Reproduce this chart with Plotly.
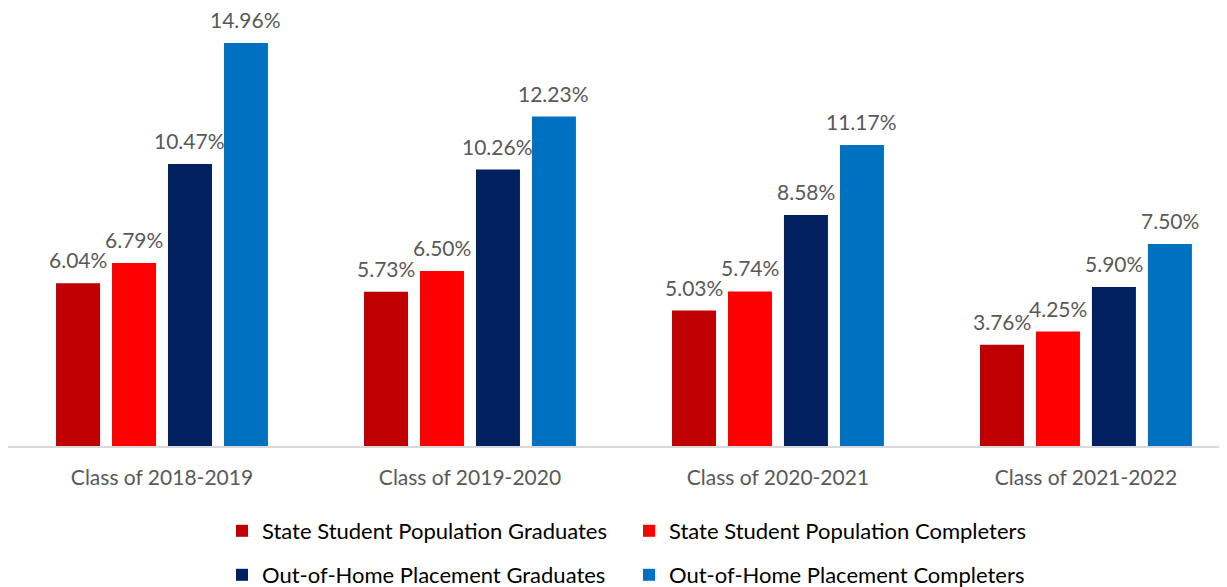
import plotly.graph_objects as go

categories = ["Class of 2018-2019", "Class of 2019-2020", "Class of 2020-2021", "Class of 2021-2022"]
series_names = [
    "State Student Population Graduates",
    "State Student Population Completers",
    "Out-of-Home Placement Graduates",
    "Out-of-Home Placement Completers",
]
state_grad = [6.04, 5.73, 5.03, 3.76]
state_comp = [6.79, 6.50, 5.74, 4.25]
ooh_grad = [10.47, 10.26, 8.58, 5.90]
ooh_comp = [14.96, 12.23, 11.17, 7.50]
colors = ["#C00000", "#FF0000", "#002060", "#0070C0"]

series = [state_grad, state_comp, ooh_grad, ooh_comp]
legends = ["legend", "legend", "legend2", "legend2"]

FONT = "Lato"
# page has an 8px body margin; figure drawn at (8, 8)
W, H = 1219, 579

fig = go.Figure()
for name, vals, col, lg in zip(series_names, series, colors, legends):
    fig.add_trace(go.Bar(
        name=name, x=categories, y=vals, marker=dict(color=col, line=dict(width=0)),
        legend=lg,
    ))

bargap = 0.273
bargroupgap = 0.214
slot = (1 - bargap) / 4
annotations = []
for i, vals in enumerate(series):
    for j, v in enumerate(vals):
        annotations.append(dict(
            x=j + (i - 1.5) * slot, y=v, xref="x", yref="y",
            text=f"{v:.2f}%", showarrow=False, yanchor="bottom", yshift=10,
            borderpad=0,
            font=dict(family=FONT, size=21, color="#595959"),
        ))

leg_common = dict(orientation="h", xref="container", xanchor="left",
                  yref="container", yanchor="middle",
                  font=dict(family=FONT, size=22, color="#000000"),
                  bgcolor="rgba(0,0,0,0)", itemclick=False, tracegroupgap=0,
                  entrywidth=362, entrywidthmode="pixels")

fig.update_layout(
    width=W, height=H,
    margin=dict(l=0, r=0, t=7, b=141),
    paper_bgcolor="white", plot_bgcolor="white",
    barmode="group", bargap=bargap, bargroupgap=bargroupgap,
    annotations=annotations,
    font=dict(family=FONT, size=21, color="#595959"),
    xaxis=dict(range=[-0.5, 3.458], showline=True, linecolor="#D9D9D9", linewidth=2,
               tickfont=dict(family=FONT, size=21, color="#595959"), ticks="",
               ticklabelstandoff=12,
               showgrid=False, zeroline=False),
    yaxis=dict(range=[0, 16], visible=False, showgrid=False, zeroline=False),
    legend=dict(leg_common, x=(236 - 8 - 14) / W, y=(H - 523) / H),
    legend2=dict(leg_common, x=(236 - 8 - 14) / W, y=(H - 567) / H),
    showlegend=True,
)

fig.write_html("out.html")
